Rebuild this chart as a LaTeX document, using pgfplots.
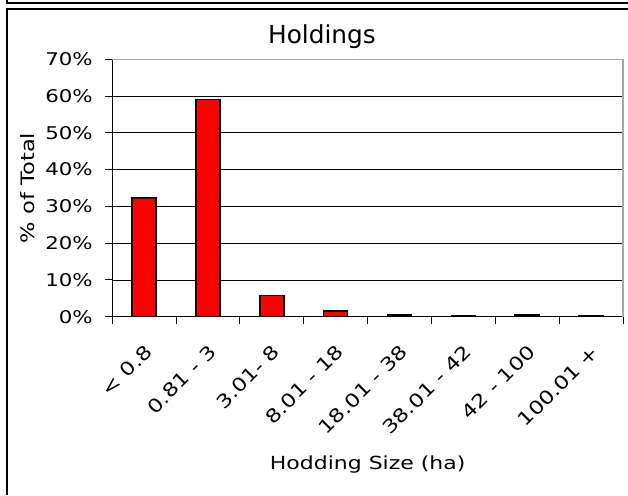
\documentclass[border=0pt]{standalone}
\usepackage{fontspec}
\setmainfont{DejaVu Sans}
\newfontfamily\lab{DejaVu Sans}[FakeStretch=1.22]
\usepackage{pgfplots}
\pgfplotsset{compat=1.18}
\begin{document}
\begin{tikzpicture}[x=1pt,y=1pt]
\begin{axis}[
  at={(112.3pt,178.3pt)}, anchor=south west,
  scale only axis, width=510.7pt, height=257.4pt,
  ybar, bar width=24pt,
  xmin=-0.5, xmax=7.5, ymin=0, ymax=70,
  axis x line*=bottom, axis y line*=left,
  axis line style={black, line width=1pt, -},
  tick align=outside,
  major tick length=7pt, minor tick length=7pt,
  tick style={black, line width=1pt},
  xtick={0,...,7},
  major x tick style={draw=none},
  minor xtick={-0.5,0.5,...,7.5},
  xticklabels={{< 0.8},{0.81 - 3},{3.01- 8},{8.01 - 18},{18.01 - 38},{38.01 - 42},{42 - 100},{100.01 +\hspace{17pt}}},
  xticklabel style={xshift=4.5pt, yshift=-25pt, rotate=45, anchor=east, inner sep=0pt, font=\lab\fontsize{18.5}{20}\selectfont},
  ytick={0,10,...,70},
  yticklabel={\pgfmathprintnumber{\tick}\%},
  yticklabel style={font=\lab\fontsize{17.5}{20}\selectfont, xshift=-9pt},
  /pgf/number format/assume math mode=true,
  ymajorgrids,
  grid style={black, line width=0.8pt},
  ylabel={\% of Total},
  ylabel style={at={(axis description cs:-0.165,0.5)}, anchor=center, font=\lab\fontsize{18.5}{20}\selectfont},
  xlabel={Hodding Size (ha)},
  xlabel style={at={(axis description cs:0.5,-0.574)}, anchor=center, font=\lab\fontsize{18}{20}\selectfont},
  title={Holdings},
  title style={at={(axis description cs:0.4106,1.0389)}, anchor=base, font=\fontsize{24.8}{28}\selectfont},
  clip=false,
]
\addplot[fill=red, draw=black, line width=1.5pt] coordinates {
  (0,32.3) (1,59.1) (2,5.7) (3,1.5) (4,0.5) (5,0.15) (6,0.4) (7,0.2)
};
\draw[gray!70, line width=1.5pt] (rel axis cs:0,1) -- (rel axis cs:1,1) -- (rel axis cs:1,0);
\end{axis}
\draw[black, line width=1.2pt] (7,495) -- (7,492) -- (628,492);
\draw[black, line width=1.2pt] (7,0) -- (7,486) -- (628,486);
\pgfresetboundingbox
\path (0,0) rectangle (628,495);
\end{tikzpicture}
\end{document}
